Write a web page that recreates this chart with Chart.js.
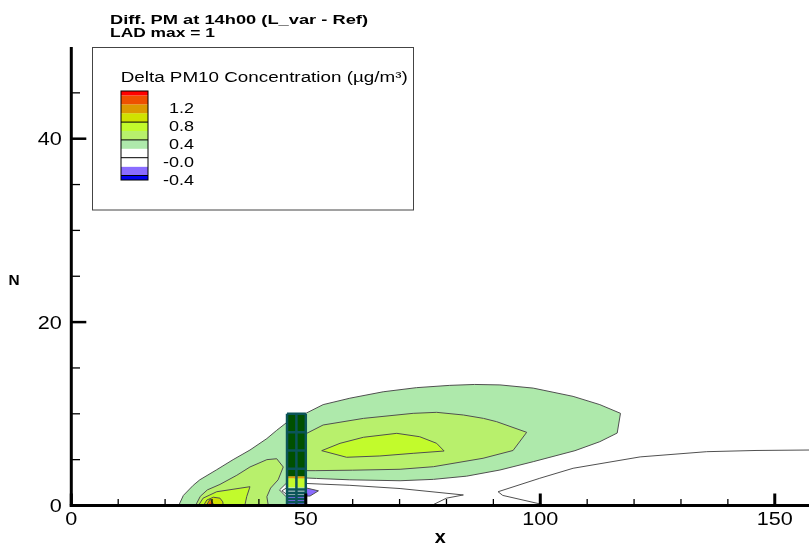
<!DOCTYPE html>
<html>
<head>
<meta charset="utf-8">
<title>Diff. PM at 14h00 (L_var - Ref)</title>
<script src="https://cdn.jsdelivr.net/npm/chart.js@4.4.1/dist/chart.umd.min.js"></script>
<style>
  html, body { margin: 0; padding: 0; background: #fff; }
</style>
</head>
<body>
<canvas id="contour-chart" width="809" height="547"></canvas>
<script>
// niveles de contorno y colores de cada banda (de abajo hacia arriba)
const levels = [-0.4, -0.2, 0.0, 0.2, 0.4, 0.6, 0.8, 1.0, 1.2, 1.4];
const bandColors = ['#0000ee', '#8a6cff', '#ffffff', '#ffffff', '#aee9ab', '#b8f06c', '#c2fb2c', '#d0e200', '#dd9900', '#ee5000', '#ff0000'];
const legendLabels = ['1.2', '0.8', '0.4', '-0.0', '-0.4'];
const legendLabelLevels = [1.2, 0.8, 0.4, 0.0, -0.4];
const legendLineLevels = [0.8, 0.4, 0.0, -0.4];

const xMajorTicks = [0, 50, 100, 150];
const xMinorTicks = [10, 20, 30, 40, 60, 70, 80, 90, 110, 120, 130, 140];
const yMajorTicks = [0, 20, 40];
const yMinorTicks = [5, 10, 15, 25, 30, 35, 45];

// contornos: [x, y]
const region02 = [[22.9,0],[23.9,1.1],[26.0,2.2],[27.4,2.8],[31.0,3.9],[34.5,5.0],[38.1,6.05],[41.7,7.3],[43.8,8.2],[45.8,9.0],[48,9.6],[50.2,10.1],[53.7,11.0],[59.4,11.7],[66.5,12.4],[73.6,12.85],[80.7,13.1],[86,13.2],[91.4,13.15],[98.5,12.8],[107.0,11.9],[112.7,11.0],[117.1,10.05],[116.4,7.9],[112.7,6.96],[107.4,5.98],[98.5,4.78],[91.4,3.87],[84.3,3.2],[77.2,2.85],[70.1,2.7],[59.4,2.8],[52.3,2.95],[50.2,3.0],[48,3.0],[45.8,2.4],[44.4,1.7],[45.8,0.96],[47,0.96],[47,0],[22.9,0]];
const region04Left = [[26.5,0],[27.5,1.0],[29,1.7],[31.7,2.3],[35.3,3.3],[38.1,4.2],[41.7,5.0],[43.8,5.1],[45.2,4.2],[44.1,2.8],[42.5,1.9],[41.7,0.96],[42.0,0],[26.5,0]];
const region04Right = [[48,7.6],[50.2,7.87],[53.7,8.78],[62.3,9.5],[72.9,10.05],[77.9,10.16],[83.6,9.87],[87.9,9.5],[90.7,9.14],[97.1,7.98],[94.2,6.0],[87.8,5.15],[77.2,4.23],[70.1,3.95],[60,3.85],[52,3.8],[50.2,3.8],[48,3.8],[48,7.6]];
const region06Left = [[27.1,0],[28.1,0.8],[31.0,1.5],[38.1,2.05],[37.4,0.96],[37.0,0],[27.1,0]];
const region06Right = [[53.4,5.98],[57.3,6.78],[62.3,7.44],[69.4,7.87],[74.3,7.5],[77.9,6.78],[79.5,5.94],[72.9,5.69],[65.8,5.4],[58.7,5.26],[53.4,5.98]];
const region08 = [[28.2,0],[28.9,0.6],[30.3,0.9],[31.7,0.8],[32.3,0.4],[32.4,0],[28.2,0]];
const region10 = [[28.8,0],[29.6,0.7],[30.5,0],[28.8,0]];
const region12 = [[29.2,0],[29.6,0.45],[30.0,0],[29.2,0]];
const regionNeg = [[48,1.9],[50.2,1.9],[52.7,1.6],[50.9,1.03],[50.2,1.03],[48,1.0],[48,1.9]];
const line00Left = [[46,1.95],[44.9,1.6],[46,1.2]];
const line00Right = [[50.2,2.4],[59.4,2.2],[70.1,1.85],[83.6,1.15],[80,0.8],[76.8,0]];
const lineLong = [[101.4,0],[92,1.1],[91.0,1.5],[99.9,2.97],[107,4.06],[121.3,5.3],[135.5,5.87],[146,6.0],[157.3,6.05]];

// edificio: columnas, filas y valor estimado de cada fila (null = celda sólida)
const buildingCols = [46, 48, 50];
const buildingRows = [0, 0.35, 0.7, 1.05, 1.4, 1.75, 2.0, 2.96, 3.2, 4, 6, 8, 10];
const buildingValues = [-0.3, -0.3, -0.3, 0.1, 0.1, 0.3, 0.7, 1.1, null, null, null, null];
const buildingGridRows = [0, 0.35, 0.7, 1.05, 1.4, 1.75, 4, 6, 8, 10];

const FONT = '"Liberation Sans", Arial, sans-serif';
const LINE = '#505050';
const SOLID = '#005000';
const TEAL = '#0b5559';

const colorFor = (v) => {
    let i = 0;
    while (i < levels.length && v >= levels[i]) i++;
    return bandColors[i];
};

const toPts = (arr) => arr.map(([x, y]) => ({ x, y }));

const app = {
    htmlElements: {
        canvas: document.getElementById('contour-chart')
    },
    chartInstance: null,
    initialize() {
        app.render();
    },
    methods: {
        polygon(pts, color, stroke) {
            return {
                type: 'line',
                data: toPts(pts),
                fill: 'shape',
                backgroundColor: color,
                borderColor: stroke ? LINE : 'rgba(0,0,0,0)',
                borderWidth: stroke ? 1 : 0,
                pointRadius: 0,
                tension: 0
            };
        },
        line(pts, color, width) {
            return {
                type: 'line',
                data: toPts(pts),
                fill: false,
                borderColor: color,
                borderWidth: width,
                pointRadius: 0,
                tension: 0
            };
        },
        buildDatasets() {
            const m = app.methods;
            const sets = [
                m.polygon(region02, colorFor(0.3), true),
                m.polygon(region04Left, colorFor(0.5), true),
                m.polygon(region04Right, colorFor(0.5), true),
                m.polygon(region06Left, colorFor(0.7), true),
                m.polygon(region06Right, colorFor(0.7), true),
                m.polygon(region08, colorFor(0.9), true),
                m.polygon(region10, colorFor(1.1), true),
                m.polygon(region12, colorFor(1.3), false),
                m.polygon(regionNeg, colorFor(-0.3), true),
                m.line(line00Left, LINE, 1),
                m.line(line00Right, LINE, 1),
                m.line(lineLong, LINE, 1)
            ];
            // celdas del edificio
            for (let c = 0; c < buildingCols.length - 1; c++) {
                for (let r = 0; r < buildingRows.length - 1; r++) {
                    const x0 = buildingCols[c], x1 = buildingCols[c + 1];
                    const y0 = buildingRows[r], y1 = buildingRows[r + 1];
                    const v = buildingValues[r];
                    const color = v === null ? SOLID : colorFor(v);
                    sets.push(m.polygon([[x0,y0],[x1,y0],[x1,y1],[x0,y1],[x0,y0]], color, false));
                }
            }
            const top = buildingRows[buildingRows.length - 1];
            buildingCols.forEach(xv => sets.push(m.line([[xv, 0], [xv, top]], TEAL, 2.5)));
            buildingGridRows.forEach(yv => sets.push(m.line([[buildingCols[0], yv], [buildingCols[2], yv]], TEAL, 2.5)));
            // el primero se dibuja abajo
            sets.forEach((s, i) => { s.order = sets.length - i; });
            return sets;
        },
        text(ctx, str, x, y, align, sx) {
            const w = ctx.measureText(str).width;
            ctx.save();
            ctx.translate(x, y);
            ctx.scale(sx, 1);
            const x0 = align === 'right' ? -w : align === 'center' ? -w / 2 : 0;
            ctx.textAlign = 'left';
            ctx.fillText(str, x0, 0);
            ctx.restore();
        },
        fitText(ctx, str, x, y, width) {
            const w = ctx.measureText(str).width;
            app.methods.text(ctx, str, x, y, 'left', width / w);
        }
    },
    decorPlugin: {
        id: 'decor',
        afterDatasetsDraw(chart) {
            const { ctx, chartArea: a, scales: { x, y } } = chart;
            const t = app.methods.text;
            ctx.save();
            ctx.fillStyle = '#000';
            ctx.strokeStyle = '#000';
            ctx.textBaseline = 'alphabetic';

            // ticks hacia dentro
            const seg = (x0, y0, x1, y1, w) => {
                ctx.lineWidth = w;
                ctx.beginPath(); ctx.moveTo(x0, y0); ctx.lineTo(x1, y1); ctx.stroke();
            };
            xMinorTicks.forEach(v => { const p = x.getPixelForValue(v); seg(p, a.bottom, p, a.bottom - 6.5, 1.3); });
            xMajorTicks.forEach(v => { const p = x.getPixelForValue(v); seg(p, a.bottom, p, a.bottom - 12, 3); });
            yMinorTicks.forEach(v => { const p = y.getPixelForValue(v); seg(a.left, p, a.left + 8.7, p, 1.3); });
            yMajorTicks.forEach(v => { const p = y.getPixelForValue(v); seg(a.left, p, a.left + 15, p, 2.5); });
            seg(a.left, a.top, a.left, a.bottom + 1.5, 3);
            seg(a.left - 1.5, a.bottom, a.right, a.bottom, 3);

            // etiquetas de los ejes
            ctx.font = '18px ' + FONT;
            xMajorTicks.forEach(v => t(ctx, String(v), x.getPixelForValue(v), 525, 'center', 1.2));
            yMajorTicks.forEach(v => t(ctx, String(v), a.left - 9.5, y.getPixelForValue(v) + 6.5, 'right', 1.2));
            ctx.font = 'bold 18px ' + FONT;
            t(ctx, 'x', (a.left + a.right) / 2, 543, 'center', 1.1);
            ctx.font = 'bold 14px ' + FONT;
            t(ctx, 'N', 14, 285, 'center', 1.1);

            // título
            ctx.font = 'bold 12.5px ' + FONT;
            app.methods.fitText(ctx, 'Diff. PM at 14h00 (L_var - Ref)', 110, 23.5, 258);
            app.methods.fitText(ctx, 'LAD max = 1', 110, 37.3, 105);

            // cuadro de leyenda
            ctx.fillStyle = '#fff';
            ctx.fillRect(92, 47.5, 321, 162.5);
            ctx.strokeStyle = '#444';
            ctx.lineWidth = 1;
            ctx.strokeRect(92.5, 47.5, 321, 162.5);
            ctx.fillStyle = '#000';
            ctx.font = '14px ' + FONT;
            app.methods.fitText(ctx, 'Delta PM10 Concentration (\u00b5g/m\u00b3)', 120.7, 81.7, 287);

            // barra de colores
            const bx = 121, bw = 27, step = 8.9, zeroY = 157.7;
            const ly = (v) => zeroY - (v / 0.2) * step;
            const barTop = 91, barBottom = 180;
            for (let i = 0; i < bandColors.length; i++) {
                const yTop = i === bandColors.length - 1 ? barTop : ly(levels[i]);
                const yBot = i === 0 ? barBottom : ly(levels[i - 1]);
                ctx.fillStyle = bandColors[i];
                ctx.fillRect(bx, yTop, bw, yBot - yTop);
            }
            ctx.strokeStyle = '#000';
            legendLineLevels.forEach(v => seg(bx, ly(v), bx + bw, ly(v), 1));
            ctx.lineWidth = 1;
            ctx.strokeRect(bx, barTop, bw, barBottom - barTop);
            ctx.fillStyle = '#000';
            ctx.font = '15px ' + FONT;
            legendLabels.forEach((s, i) => t(ctx, s, 194, ly(legendLabelLevels[i]) + 9, 'right', 1.2));
            ctx.restore();
        }
    },
    render() {
        const ctx = app.htmlElements.canvas.getContext('2d');
        app.chartInstance = new Chart(ctx, {
            type: 'scatter',
            data: { datasets: app.methods.buildDatasets() },
            options: {
                responsive: false,
                animation: false,
                events: [],
                layout: { padding: { left: 71.3, right: 0, top: 47, bottom: 41.5 } },
                scales: {
                    x: { type: 'linear', min: 0, max: 157.3, display: false },
                    y: { type: 'linear', min: 0, max: 50, display: false }
                },
                plugins: {
                    legend: { display: false },
                    tooltip: { enabled: false }
                }
            },
            plugins: [app.decorPlugin]
        });
    }
};
app.initialize();
</script>
</body>
</html>
